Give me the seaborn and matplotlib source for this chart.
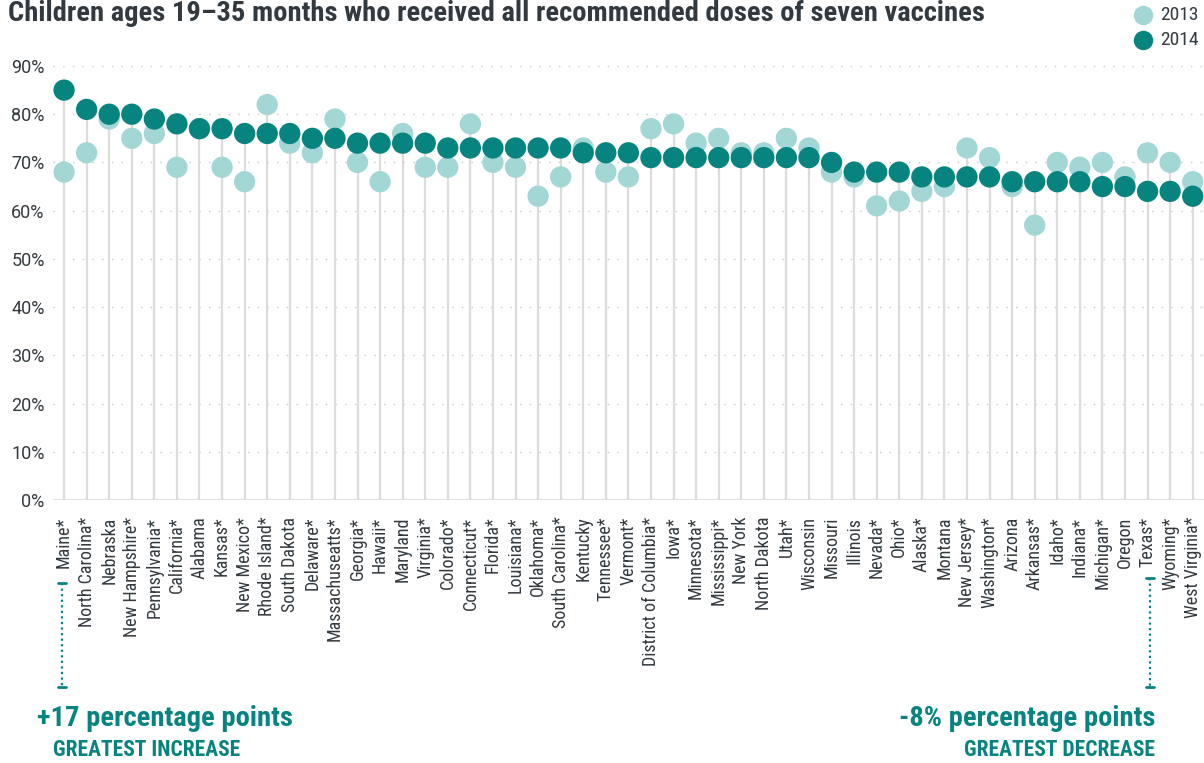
import numpy as np
import pandas as pd
import matplotlib
matplotlib.use("Agg")
import matplotlib.pyplot as plt
import seaborn as sns
from matplotlib import font_manager

states = [
    "Maine*", "North Carolina*", "Nebraska", "New Hampshire*", "Pennsylvania*",
    "California*", "Alabama", "Kansas*", "New Mexico*", "Rhode Island*",
    "South Dakota", "Delaware*", "Massachuseatts*", "Georgia*", "Hawaii*",
    "Maryland", "Virginia*", "Colorado*", "Connecticut*", "Florida*",
    "Louisiana*", "Oklahoma*", "South Carolina*", "Kentucky", "Tennessee*",
    "Vermont*", "District of Columbia*", "Iowa*", "Minnesota*", "Mississippi*",
    "New York", "North Dakota", "Utah*", "Wisconsin", "Missouri",
    "Illinois", "Nevada*", "Ohio*", "Alaska*", "Montana",
    "New Jersey*", "Washington*", "Arizona", "Arkansas*", "Idaho*",
    "Indiana*", "Michigan*", "Oregon", "Texas*", "Wyoming*",
    "West Virginia*",
]
v2013 = [68, 72, 79, 75, 76, 69, 77, 69, 66, 82,
         74, 72, 79, 70, 66, 76, 69, 69, 78, 70,
         69, 63, 67, 73, 68, 67, 77, 78, 74, 75,
         72, 72, 75, 73, 68, 67, 61, 62, 64, 65,
         73, 71, 65, 57, 70, 69, 70, 67, 72, 70,
         66]
v2014 = [85, 81, 80, 80, 79, 78, 77, 77, 76, 76,
         76, 75, 75, 74, 74, 74, 74, 73, 73, 73,
         73, 73, 73, 72, 72, 72, 71, 71, 71, 71,
         71, 71, 71, 71, 70, 68, 68, 68, 67, 67,
         67, 67, 66, 66, 66, 66, 65, 65, 64, 64,
         63]
yticks = [0, 10, 20, 30, 40, 50, 60, 70, 80, 90]

LIGHT = "#a3d7d5"
DARK = "#078480"
TEXT = "#333a3f"

sns.set_theme(style="white")

available = {f.name for f in font_manager.fontManager.ttflist}
narrow = next((f for f in ["Roboto Condensed", "Liberation Sans Narrow",
                           "DejaVu Sans Condensed", "Roboto"] if f in available),
              "DejaVu Sans")
plt.rcParams["font.family"] = [narrow, "DejaVu Sans"]

df = pd.DataFrame({"state": states, "2013": v2013, "2014": v2014})
df["x"] = np.arange(len(df))
long = df.melt(id_vars=["state", "x"], value_vars=["2013", "2014"],
               var_name="year", value_name="pct")

fig = plt.figure(figsize=(12.04, 7.63), dpi=100)
ax = fig.add_axes([53 / 1204, 263 / 763, 1151 / 1204, 434 / 763])

# grid
for t in yticks[1:]:
    ax.axhline(t, color="#c8c8c8", lw=1, ls=(0, (1, 6)), zorder=0)
ax.axhline(0, color="#dddddd", lw=2, zorder=1)

# stems
ax.vlines(df["x"], 0, df[["2013", "2014"]].max(axis=1), color="#dcdcdc",
          lw=1.6, zorder=1)

sns.scatterplot(data=long, x="x", y="pct", hue="year",
                palette={"2013": LIGHT, "2014": DARK}, s=235,
                edgecolor="none", linewidth=0, legend=False, ax=ax, zorder=3)

ax.set_xlim(-0.49, 50.5)
ax.set_ylim(0, 90)
ax.set_yticks(yticks)
ax.set_yticklabels([f"{t}%" for t in yticks], fontsize=13, color=TEXT,
                   family=["Roboto", "DejaVu Sans"])
ax.set_xticks(df["x"])
ax.set_xticklabels(states, rotation=90, fontsize=13, color=TEXT,
                   va="top", ha="center")
ax.tick_params(axis="x", length=0, pad=12)
ax.tick_params(axis="y", length=0, pad=6)
ax.set_xlabel("")
ax.set_ylabel("")
for sp in ax.spines.values():
    sp.set_visible(False)

# title
fig.text(8 / 1204, 1 - 21 / 763, "Children ages 19\u201335 months who received all "
         "recommended doses of seven vaccines", fontsize=20.5, fontweight="bold",
         color=TEXT, va="baseline", ha="left")

# legend
for yy, lab, col in [(15, "2013", LIGHT), (40, "2014", DARK)]:
    fig.lines.append(plt.Line2D([1143 / 1204], [1 - yy / 763], marker="o",
                                markersize=13, color=col, ls="none",
                                transform=fig.transFigure))
    fig.text(1160 / 1204, 1 - yy / 763, lab, fontsize=14, color=TEXT,
             va="center", ha="left")

# annotations
def bracket(xpx, y0, y1):
    xs = [xpx / 1204] * 2
    fig.lines.append(plt.Line2D(xs, [1 - y0 / 763, 1 - y1 / 763], color=DARK,
                                lw=1.6, ls=(0, (1, 1.5)),
                                transform=fig.transFigure))
    for yy in (y0, y1):
        fig.lines.append(plt.Line2D([(xpx - 4) / 1204, (xpx + 4) / 1204],
                                    [1 - yy / 763] * 2, color=DARK, lw=2,
                                    transform=fig.transFigure))

bracket(62, 583, 687)
bracket(1150, 578, 687)

fig.text(37 / 1204, 1 - 719 / 763, "+17 percentage points", fontsize=20.5,
         fontweight="bold", color=DARK, va="center", ha="left")
fig.text(53 / 1204, 1 - 750 / 763, "GREATEST INCREASE", fontsize=15.5,
         fontweight="bold", color=DARK, va="center", ha="left")
fig.text(1155 / 1204, 1 - 719 / 763, "-8% percentage points", fontsize=20.5,
         fontweight="bold", color=DARK, va="center", ha="right")
fig.text(1155 / 1204, 1 - 750 / 763, "GREATEST DECREASE", fontsize=15.5,
         fontweight="bold", color=DARK, va="center", ha="right")

fig.savefig("out.png", dpi=100)
